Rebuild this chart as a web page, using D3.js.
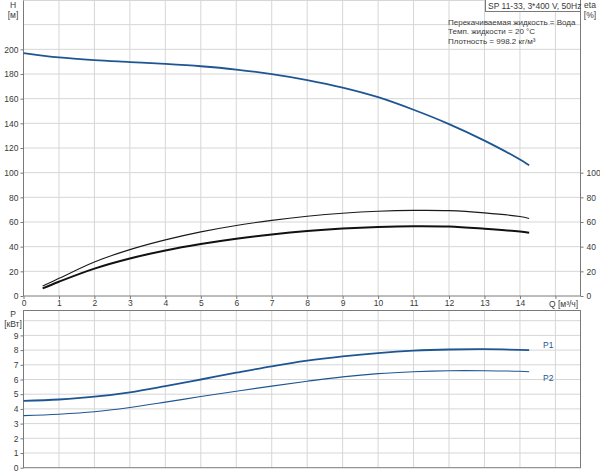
<!DOCTYPE html>
<html><head><meta charset="utf-8">
<script src="https://cdn.jsdelivr.net/npm/d3@7"></script>
<style>
body{margin:0;background:#fff;}
svg{display:block;font-family:"Liberation Sans",Arial,sans-serif;}
</style></head>
<body><svg id="c" width="600" height="474"></svg>
<script>
// ---- data ----
const qH = [0,1,2,3,4,5,6,7,8,9,10,11,12,13,14,14.26];
const H  = [197,193.4,191.2,189.7,188.2,186.3,183.6,179.9,175.1,169,161.2,151,139.4,126,110.6,106];

const qEta = [0.54,1,2,3,4,5,6,7,8,9,10,11,12,13,14,14.26];
const etaPump  = [8.1,14.3,27.6,37.6,45.5,52,57.2,61.3,64.6,67.1,68.7,69.4,69.2,67.4,64.4,62.9];
const etaTotal = [6.2,11.6,22.2,30.4,36.9,42.1,46.4,49.9,52.7,54.7,56.0,56.6,56.3,54.5,52.2,51.3];

const qP = [0,1,2,3,4,5,6,7,8,9,10,11,12,13,14,14.26];
const P1 = [4.54,4.64,4.83,5.13,5.55,6.0,6.46,6.9,7.28,7.57,7.8,7.96,8.04,8.06,8.02,8.0];
const P2 = [3.54,3.64,3.81,4.1,4.46,4.84,5.2,5.55,5.88,6.18,6.4,6.53,6.6,6.6,6.56,6.53];

const qTicks = [0,1,2,3,4,5,6,7,8,9,10,11,12,13,14];
const hTicks = [0,20,40,60,80,100,120,140,160,180,200];
const etaTicks = [0,20,40,60,80,100];
const pTicks = [0,1,2,3,4,5,6,7,8,9];

const titleText = "SP 11-33, 3*400 V, 50Hz";
const infoLines = ["Перекачиваемая жидкость = Вода","Темп. жидкости = 20 °C","Плотность = 998.2 кг/м³"];

// ---- layout ----
const svg = d3.select("#c");
const L = 23.5, R = 580.5;
const topT = 0.5, topB = 296;
const botT = 310.5, botB = 467.7;

const x = d3.scaleLinear().domain([0,15]).range([L, L+15*35.46]);
const yH = d3.scaleLinear().domain([0,240]).range([topB, 0]);
const yP = d3.scaleLinear().domain([0,10]).range([botB, botB-147]);

const gridC = "#d6d6d6", axisC = "#7a7a7a", txtC = "#3a3a3a", blue = "#1e5693";
const fs = "8.5px";

// grids
const g = svg.append("g");
d3.range(0,16).forEach(v=>{
  g.append("line").attr("x1",x(v)).attr("x2",x(v)).attr("y1",topT).attr("y2",topB).attr("stroke",gridC);
  g.append("line").attr("x1",x(v)).attr("x2",x(v)).attr("y1",botT).attr("y2",botB).attr("stroke",gridC);
});
d3.range(20,241,20).forEach(v=>{
  g.append("line").attr("x1",L).attr("x2",R).attr("y1",yH(v)).attr("y2",yH(v)).attr("stroke",gridC);
});
d3.range(1,11).forEach(v=>{
  g.append("line").attr("x1",L).attr("x2",R).attr("y1",yP(v)).attr("y2",yP(v)).attr("stroke",gridC);
});

// frames
svg.append("line").attr("x1",L).attr("x2",R).attr("y1",topT).attr("y2",topT).attr("stroke",gridC);
svg.append("rect").attr("x",L).attr("y",botT).attr("width",R-L).attr("height",botB-botT)
  .attr("fill","none").attr("stroke",axisC);

function styleAxis(sel){
  sel.selectAll("path.domain").attr("stroke",axisC);
  sel.selectAll(".tick line").attr("stroke",axisC);
  sel.selectAll("text").attr("fill",txtC).style("font-size",fs).style("font-family","Liberation Sans, Arial, sans-serif");
}

// top axes
const axL = svg.append("g").attr("transform",`translate(${L},0)`)
  .call(d3.axisLeft(yH).tickValues(hTicks).tickSize(3).tickSizeOuter(0).tickPadding(2));
axL.select("path.domain").attr("d",`M0,${topB}V${topT}`);
styleAxis(axL);

const axR = svg.append("g").attr("transform",`translate(${R},0)`)
  .call(d3.axisRight(yH).tickValues(etaTicks).tickSize(3).tickSizeOuter(0).tickPadding(3));
axR.select("path.domain").attr("d",`M0,${topB}V${topT}`);
styleAxis(axR);

const axB = svg.append("g").attr("transform",`translate(0,${topB})`)
  .call(d3.axisBottom(x).tickValues(qTicks.concat([15])).tickSize(3).tickSizeOuter(0).tickPadding(1)
    .tickFormat(d=> d===15 ? "" : d));
axB.select("path.domain").attr("d",`M${L},0H${R}`);
styleAxis(axB);

// bottom left axis
const axP = svg.append("g").attr("transform",`translate(${L},0)`)
  .call(d3.axisLeft(yP).tickValues(pTicks).tickSize(3).tickSizeOuter(0).tickPadding(2));
axP.select("path.domain").attr("d",`M0,${botB}V${botT}`);
styleAxis(axP);

// curves
const lineH = d3.line().x((d,i)=>x(qH[i])).y(d=>yH(d)).curve(d3.curveMonotoneX);
const lineE = d3.line().x((d,i)=>x(qEta[i])).y(d=>yH(d)).curve(d3.curveCatmullRom.alpha(0.5));
const lineP = d3.line().x((d,i)=>x(qP[i])).y(d=>yP(d)).curve(d3.curveCatmullRom.alpha(0.5));

svg.append("path").attr("d",lineH(H)).attr("fill","none").attr("stroke",blue).attr("stroke-width",1.8);
svg.append("path").attr("d",lineE(etaPump)).attr("fill","none").attr("stroke","#1a1a1a").attr("stroke-width",1.1);
svg.append("path").attr("d",lineE(etaTotal)).attr("fill","none").attr("stroke","#111").attr("stroke-width",2);
svg.append("path").attr("d",lineP(P1)).attr("fill","none").attr("stroke",blue).attr("stroke-width",1.8);
svg.append("path").attr("d",lineP(P2)).attr("fill","none").attr("stroke",blue).attr("stroke-width",1.1);

// texts
function txt(s,xx,yy,anchor,col,size){
  return svg.append("text").attr("x",xx).attr("y",yy).attr("text-anchor",anchor||"start")
    .attr("fill",col||txtC).style("font-size",size||fs).text(s);
}
txt("H",13,8,"middle");
txt("[м]",13,18,"middle");
txt("eta",590,8,"middle");
txt("[%]",590,18,"middle");
txt("P",13,317,"middle");
txt("[кВт]",13,327,"middle");
txt("Q [м³/ч]",549,307,"start");
txt("P1",543,348,"start",blue);
txt("P2",543,381,"start",blue);

svg.append("rect").attr("x",485.5).attr("y",-1).attr("width",R-485.5).attr("height",12.5)
  .attr("fill","#fff").attr("stroke",axisC);
txt(titleText,488,9,"start",txtC,"8.5px");
infoLines.forEach((s,i)=>txt(s,448,24.5+i*9.5,"start",txtC,"8px"));
</script></body></html>
